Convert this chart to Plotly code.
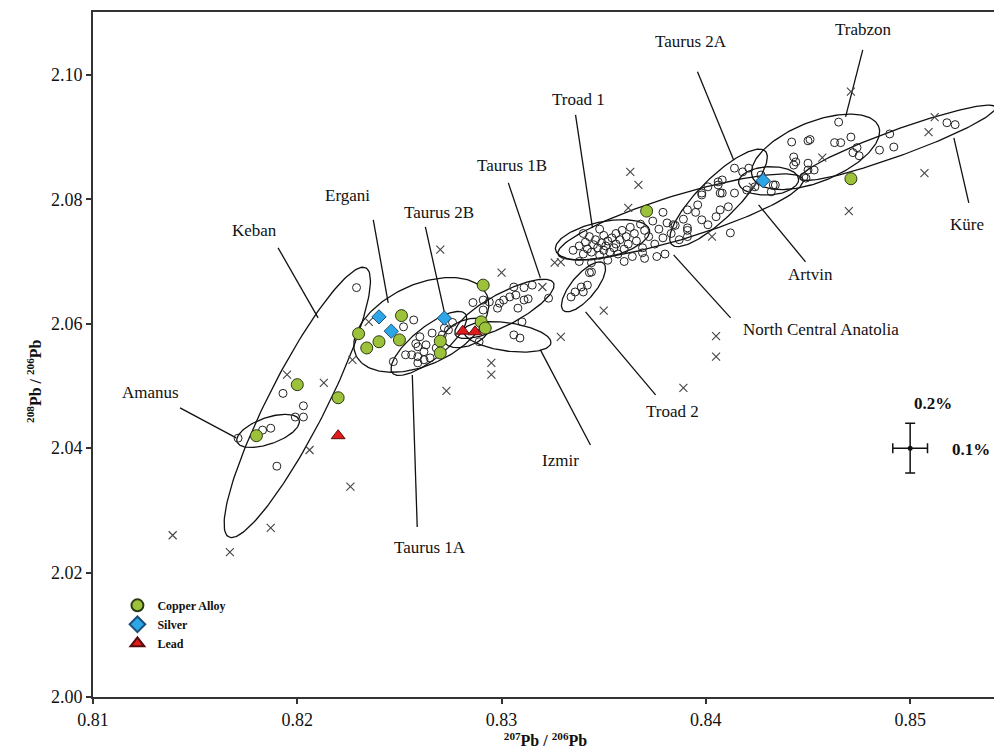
import numpy as np
import plotly.graph_objects as go

# ---------------- data ----------------
X_RANGE = [0.81, 0.8543]
Y_RANGE = [2.00, 2.1101]
X_TICKS = [0.81, 0.82, 0.83, 0.84, 0.85]
Y_TICKS = [2.00, 2.02, 2.04, 2.06, 2.08, 2.10]

# ore-field samples (open circles)
OPEN_X = [0.8193, 0.8203, 0.8199, 0.8203, 0.8183, 0.8187, 0.8171, 0.8190, 0.8229,
          0.8252, 0.8257, 0.8260, 0.8266, 0.8272, 0.8271, 0.8259, 0.8263, 0.8253, 0.8256,
          0.8259, 0.8262, 0.8265, 0.8259, 0.8247, 0.8268, 0.8274, 0.8276, 0.8258, 0.8262,
          0.8286, 0.8291, 0.8291, 0.8294, 0.8298, 0.8299, 0.8301, 0.8304, 0.8307, 0.8308,
          0.8311, 0.8313, 0.8311, 0.8306, 0.8315, 0.8323, 0.8310, 0.8306, 0.8309, 0.8289, 0.8291,
          0.8334, 0.8336, 0.8339, 0.8342, 0.8340, 0.8343,
          0.8335, 0.8338, 0.8340, 0.8341, 0.8342, 0.8343, 0.8344, 0.8345, 0.8346, 0.8347,
          0.8348, 0.8349, 0.8350, 0.8350, 0.8351, 0.8352, 0.8353, 0.8354, 0.8355, 0.8356,
          0.8356, 0.8357, 0.8358, 0.8359, 0.8360, 0.8361, 0.8362, 0.8363, 0.8364, 0.8365,
          0.8366, 0.8368, 0.8369, 0.8370, 0.8372, 0.8374, 0.8375, 0.8377, 0.8379, 0.8381,
          0.8383, 0.8385, 0.8387, 0.8389, 0.8391, 0.8338, 0.8344, 0.8352, 0.8360, 0.8370,
          0.8380, 0.8348, 0.8340, 0.8344, 0.8369, 0.8376,
          0.8379, 0.8384, 0.8391, 0.8391, 0.8395, 0.8398, 0.8398, 0.8401, 0.8406, 0.8407,
          0.8414, 0.8420, 0.8412, 0.8401, 0.8391, 0.8396, 0.8405, 0.8407, 0.8411,
          0.8442, 0.8450, 0.8463, 0.8465, 0.8443, 0.8444, 0.8443, 0.8450, 0.8450, 0.8453,
          0.8449, 0.8421, 0.8414, 0.8418, 0.8408, 0.8406, 0.8408, 0.8398, 0.8432, 0.8434,
          0.8424, 0.8427,
          0.8451, 0.8466, 0.8471, 0.8474, 0.8472, 0.8475, 0.8485, 0.8492, 0.8490, 0.8448,
          0.8518, 0.8522, 0.8433]
OPEN_Y = [2.0488, 2.0468, 2.0450, 2.0450, 2.0429, 2.0432, 2.0416, 2.0371, 2.0658,
          2.0595, 2.0606, 2.0579, 2.0585, 2.0593, 2.0582, 2.0563, 2.0566, 2.0550, 2.0550,
          2.0547, 2.0542, 2.0545, 2.0537, 2.0539, 2.0561, 2.0590, 2.0602, 2.0568, 2.0555,
          2.0634, 2.0622, 2.0638, 2.0635, 2.0625, 2.0633, 2.0638, 2.0643, 2.0646, 2.0625,
          2.0638, 2.0640, 2.0658, 2.0659, 2.0662, 2.0641, 2.0603, 2.0582, 2.0577, 2.0571, 2.0593,
          2.0643, 2.0651, 2.0659, 2.0662, 2.0651, 2.0682,
          2.0718, 2.0725, 2.0712, 2.0731, 2.0720, 2.0740, 2.0715, 2.0727, 2.0735, 2.0722,
          2.0710, 2.0730, 2.0742, 2.0718, 2.0725, 2.0733, 2.0715, 2.0738, 2.0722, 2.0745,
          2.0728, 2.0712, 2.0735, 2.0750, 2.0720, 2.0740, 2.0728, 2.0755, 2.0708, 2.0745,
          2.0733, 2.0760, 2.0722, 2.0750, 2.0740, 2.0765, 2.0728, 2.0752, 2.0738, 2.0762,
          2.0745, 2.0758, 2.0735, 2.0768, 2.0750, 2.0700, 2.0698, 2.0702, 2.0700, 2.0705,
          2.0712, 2.0752, 2.0745, 2.0683, 2.0714, 2.0708,
          2.0779, 2.0759, 2.0754, 2.0740, 2.0779, 2.0767, 2.0810, 2.0820, 2.0828, 2.0810,
          2.0810, 2.0815, 2.0746, 2.0759, 2.0783, 2.0791, 2.0772, 2.0783, 2.0788,
          2.0892, 2.0894, 2.0891, 2.0924, 2.0868, 2.0860, 2.0855, 2.0858, 2.0847, 2.0847,
          2.0834, 2.0850, 2.0850, 2.0844, 2.0831, 2.0823, 2.0810, 2.0807, 2.0812, 2.0823,
          2.0820, 2.0839,
          2.0896, 2.0891, 2.0900, 2.0883, 2.0875, 2.0870, 2.0879, 2.0884, 2.0905, 2.0836,
          2.0923, 2.0920, 2.0823]

# other reference ores (crosses)
CROSS_X = [0.8139, 0.8167, 0.8187, 0.8195, 0.8213, 0.8206, 0.8226, 0.8235, 0.8227, 0.8270,
           0.8300, 0.8295, 0.8295, 0.8273, 0.8329, 0.8320, 0.8326, 0.8329, 0.8363, 0.8367,
           0.8362, 0.8350, 0.8403, 0.8405, 0.8405, 0.8389, 0.8471, 0.8509, 0.8507, 0.8470,
           0.8457, 0.8423, 0.8512]
CROSS_Y = [2.0260, 2.0233, 2.0272, 2.0518, 2.0505, 2.0397, 2.0338, 2.0603, 2.0542, 2.0719,
           2.0682, 2.0537, 2.0518, 2.0492, 2.0579, 2.0659, 2.0698, 2.0699, 2.0844, 2.0823,
           2.0786, 2.0621, 2.0740, 2.0580, 2.0547, 2.0497, 2.0973, 2.0908, 2.0842, 2.0781,
           2.0867, 2.0820, 2.0932]

# artefacts
COPPER_X = [0.8180, 0.8200, 0.8220, 0.8230, 0.8234, 0.8240, 0.8251, 0.8250, 0.8270, 0.8270,
            0.8291, 0.8290, 0.8292, 0.8371, 0.8471]
COPPER_Y = [2.0420, 2.0502, 2.0481, 2.0584, 2.0561, 2.0571, 2.0613, 2.0574, 2.0572, 2.0553,
            2.0662, 2.0603, 2.0593, 2.0781, 2.0833]
SILVER_X = [0.8240, 0.8246, 0.8272, 0.8428]
SILVER_Y = [2.0611, 2.0588, 2.0609, 2.0830]
LEAD_X = [0.8281, 0.8287, 0.8220]
LEAD_Y = [2.0588, 2.0587, 2.0420]

# ore-field ellipses: centre, major semi-axis end offset, minor/major ratio
ELL_NAMES = ["Keban", "Amanus", "Ergani", "Taurus 1A", "Taurus 2B", "Taurus 1B", "Izmir",
             "Troad 2", "Troad 1", "North Central Anatolia", "Taurus 2A", "Artvin", "Trabzon", "Küre"]
ELL_CX = [0.8200, 0.81857, 0.82607, 0.82644, 0.82828, 0.83014, 0.83028,
          0.83401, 0.83494, 0.83876, 0.84062, 0.84307, 0.84537, 0.84939]
ELL_CY = [2.04735, 2.04277, 2.05981, 2.05683, 2.05852, 2.06238, 2.05788,
          2.06592, 2.07347, 2.07717, 2.08023, 2.08296, 2.08762, 2.08907]
ELL_DX = [0.003356, 0.001519, 0.003199, 0.001788, 0.001107, 0.002401, 0.002136,
          0.00098, 0.002299, 0.005997, 0.002288, 0.00147, 0.003087, 0.004787]
ELL_DY = [0.021624, 0.001768, 0.004887, 0.004743, 0.001318, 0.004180, -0.000981,
          0.00381, 0.001608, 0.006013, 0.007508, 0.000257, 0.0041, 0.005723]
ELL_RATIO = [0.19, 0.40, 0.556, 0.34, 0.54, 0.29, 0.32,
             0.39, 0.375, 0.172, 0.30, 0.47, 0.44, 0.125]

# labels and leader lines
LABELS = ["Keban", "Ergani", "Taurus 2B", "Taurus 1B", "Troad 1", "Taurus 2A", "Trabzon",
          "Küre", "Artvin", "North Central Anatolia", "Amanus", "Troad 2", "Izmir", "Taurus 1A"]
LABEL_X = [0.81789, 0.82244, 0.82695, 0.83053, 0.83376, 0.83925, 0.84773,
           0.85277, 0.84513, 0.84562, 0.81279, 0.83837, 0.83288, 0.82651]
LABEL_Y = [2.07492, 2.08055, 2.07781, 2.08537, 2.09598, 2.10531, 2.10723,
           2.07588, 2.06785, 2.05900, 2.04887, 2.04582, 2.03794, 2.02395]
LEAD_X0 = [0.81906, 0.82372, 0.82627, 0.83033, 0.83362, 0.83959, 0.84768,
           0.85214, 0.84488, 0.84121, 0.81426, 0.83754, 0.83435, 0.82587]
LEAD_Y0 = [2.07219, 2.07669, 2.07556, 2.08264, 2.09357, 2.10048, 2.10402,
           2.08987, 2.06994, 2.06093, 2.04646, 2.04855, 2.04051, 2.02733]
LEAD_X1 = [0.82102, 0.82445, 0.82725, 0.83190, 0.83445, 0.84136, 0.84684,
           0.85287, 0.84258, 0.83842, 0.81701, 0.83411, 0.83190, 0.82563]
LEAD_Y1 = [2.06093, 2.06334, 2.06109, 2.06736, 2.07540, 2.08633, 2.09325,
           2.07942, 2.07910, 2.07106, 2.04164, 2.06190, 2.05579, 2.05177]

# analytical error (2 sigma)
ERR_X = [0.850]
ERR_Y = [2.040]
ERR_DX = [0.00085]
ERR_DY = [0.004]

# ---------------- layout constants ----------------
# page body has an 8px margin, so the figure is sized to fill the rest of the window
W, H = 994, 743
ML, MR, MT, MB = 85, 4, 4, 54
SX = (W - ML - MR) / (X_RANGE[1] - X_RANGE[0])
SY = (H - MT - MB) / (Y_RANGE[1] - Y_RANGE[0])
SERIF = "Liberation Serif, Times New Roman, serif"

fig = go.Figure()

t = np.linspace(0, 2 * np.pi, 160)
for cx, cy, dx, dy, r in zip(ELL_CX, ELL_CY, ELL_DX, ELL_DY, ELL_RATIO):
    ux, uy = dx * SX, dy * SY
    vx, vy = -uy * r, ux * r
    ex = cx + (ux * np.cos(t) + vx * np.sin(t)) / SX
    ey = cy + (uy * np.cos(t) + vy * np.sin(t)) / SY
    fig.add_trace(go.Scatter(x=ex, y=ey, mode="lines", line=dict(color="#111", width=1.3),
                             showlegend=False, hoverinfo="skip"))

for x0, y0, x1, y1 in zip(LEAD_X0, LEAD_Y0, LEAD_X1, LEAD_Y1):
    fig.add_trace(go.Scatter(x=[x0, x1], y=[y0, y1], mode="lines",
                             line=dict(color="#111", width=1.3), showlegend=False, hoverinfo="skip"))

fig.add_trace(go.Scatter(x=OPEN_X, y=OPEN_Y, mode="markers", showlegend=False,
                         marker=dict(symbol="circle-open", size=8, color="#222", line=dict(width=1))))
fig.add_trace(go.Scatter(x=CROSS_X, y=CROSS_Y, mode="markers", showlegend=False,
                         marker=dict(symbol="x-thin-open", size=8, color="#444", line=dict(width=1.1))))

fig.add_trace(go.Scatter(x=COPPER_X, y=COPPER_Y, mode="markers", name="Copper Alloy",
                         marker=dict(symbol="circle", size=12, color="#9CC13A",
                                     line=dict(color="#2a3a10", width=1))))
fig.add_trace(go.Scatter(x=SILVER_X, y=SILVER_Y, mode="markers", name="Silver",
                         marker=dict(symbol="diamond", size=11, color="#2CA6E6",
                                     line=dict(color="#1a4f7a", width=1))))
fig.add_trace(go.Scatter(x=LEAD_X, y=LEAD_Y, mode="markers", name="Lead",
                         marker=dict(symbol="triangle-up", size=12, color="#E01B1B",
                                     line=dict(color="#5a0a0a", width=1))))

fig.add_trace(go.Scatter(x=ERR_X, y=ERR_Y, mode="markers", showlegend=False,
                         marker=dict(size=5, color="#111"),
                         error_x=dict(type="data", array=ERR_DX, color="#111", thickness=1.5, width=5),
                         error_y=dict(type="data", array=ERR_DY, color="#111", thickness=1.5, width=5)))

for txt, x, y in zip(LABELS, LABEL_X, LABEL_Y):
    fig.add_annotation(x=x, y=y, text=txt, showarrow=False,
                       font=dict(family=SERIF, size=17, color="#111"))

fig.add_annotation(x=0.85111, y=2.04711, text="<b>0.2%</b>", showarrow=False,
                   font=dict(family=SERIF, size=17, color="#111"))
fig.add_annotation(x=0.85297, y=2.03971, text="<b>0.1%</b>", showarrow=False,
                   font=dict(family=SERIF, size=17, color="#111"))

# y-axis title placed like the reference (left of tick labels)
fig.add_annotation(xref="paper", yref="paper", x=0, y=0.46, xshift=-71, textangle=-90,
                   text="<b><sup>208</sup>Pb / <sup>206</sup>Pb</b>", showarrow=False,
                   font=dict(family=SERIF, size=16, color="#111"))

axis_common = dict(showline=True, linecolor="#333", linewidth=2, mirror=True,
                   ticks="outside", ticklen=5, tickcolor="#333", tickwidth=1.5,
                   showgrid=False, zeroline=False,
                   tickfont=dict(family=SERIF, size=18, color="#111"))

fig.update_layout(
    width=W, height=H,
    margin=dict(l=ML, r=MR, t=MT, b=MB, autoexpand=False),
    plot_bgcolor="white", paper_bgcolor="white",
    xaxis=dict(range=X_RANGE, tickvals=X_TICKS, ticktext=[f"{v:.2f}" for v in X_TICKS],
               title=dict(text="<b><sup>207</sup>Pb / <sup>206</sup>Pb</b>", standoff=0,
                          font=dict(family=SERIF, size=16, color="#111")),
               automargin=False, **axis_common),
    yaxis=dict(range=Y_RANGE, tickvals=Y_TICKS, ticktext=[f"{v:.2f}" for v in Y_TICKS],
               automargin=False, **axis_common),
    legend=dict(x=0.027, y=0.155, xanchor="left", yanchor="top", bgcolor="rgba(0,0,0,0)",
                font=dict(family=SERIF, size=12, color="#111", weight="bold"),
                itemsizing="constant", tracegroupgap=0),
)

fig.write_html("out.html")
